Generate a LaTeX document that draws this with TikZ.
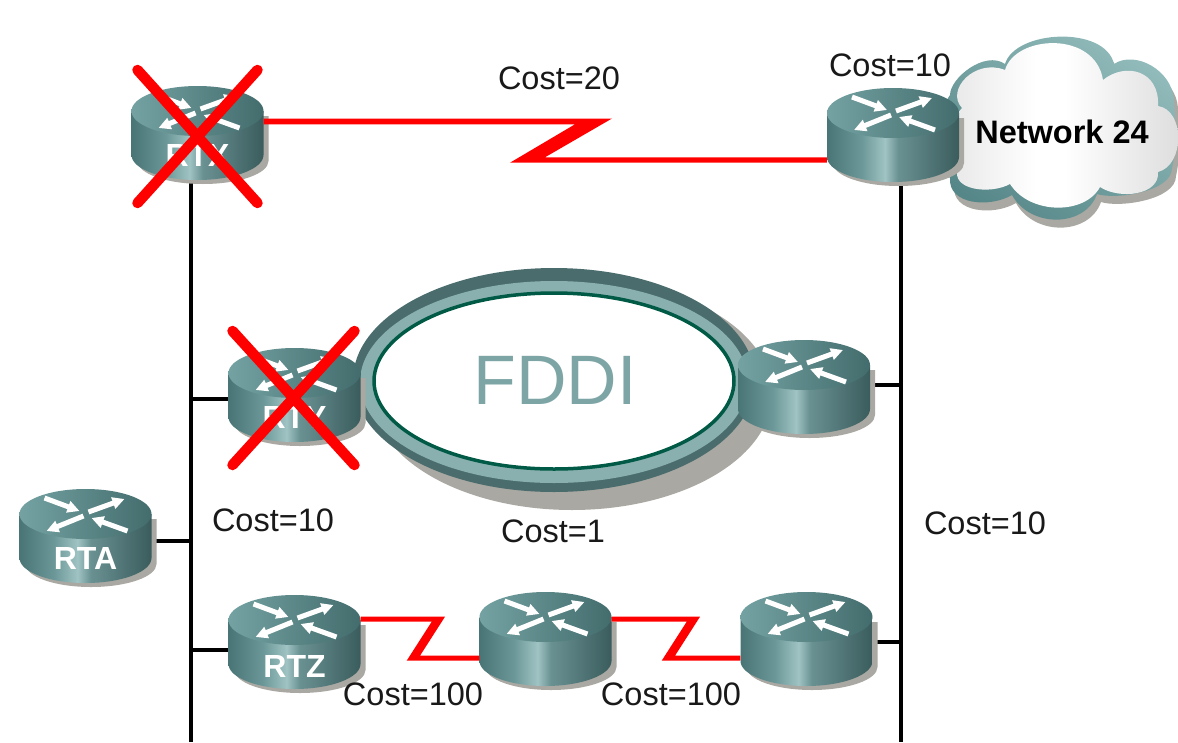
\documentclass[tikz,border=0pt]{standalone}
\usepackage{fontspec}
\setmainfont{Liberation Sans}
\usetikzlibrary{arrows.meta,calc,shapes.geometric}
\definecolor{rshadow}{HTML}{A9A8A2}
\definecolor{rdark}{HTML}{3A5C5D}
\definecolor{rmid}{HTML}{4A7576}
\definecolor{rmid2}{HTML}{6B9798}
\definecolor{rmid3}{HTML}{6A9192}
\definecolor{rlight}{HTML}{A0C3C3}
\definecolor{rtopl}{HTML}{74A2A2}
\definecolor{rtopr}{HTML}{436C6D}
\definecolor{ringdark}{HTML}{4A6C6D}
\definecolor{ringlight}{HTML}{89B0AF}
\definecolor{ringgreen}{HTML}{005A45}
\definecolor{fdditxt}{HTML}{7EA5A5}
\definecolor{cloudtop}{HTML}{93BCBC}
\definecolor{cloudbot}{HTML}{568788}
\definecolor{cloudgrey}{HTML}{DCDCDC}
\definecolor{redline}{HTML}{FF0000}
\pgfdeclarehorizontalshading{rbody}{100bp}{color(0bp)=(rmid); color(25bp)=(rmid); color(38bp)=(rmid2); color(47bp)=(rlight); color(52bp)=(rmid3); color(75bp)=(rdark); color(100bp)=(rdark)}
\pgfdeclarehorizontalshading{cloudfill}{100bp}{color(0bp)=(cloudgrey); color(25bp)=(cloudgrey!70!white); color(44bp)=(white); color(50bp)=(white); color(75bp)=(cloudgrey); color(100bp)=(cloudgrey)}
\pgfdeclarelayer{bg}
\pgfsetlayers{bg,main}
\tikzset{
  bus/.style={line width=4pt,black},
  redlink/.style={fill=redline},
  crossout/.style={line width=10.5pt,redline,line cap=round},
  costlabel/.style={font=\fontsize{32.5}{34}\selectfont,text=black!90,inner sep=0pt},
  routerbox/.style={rectangle,minimum width=132pt,minimum height=94pt,inner sep=0pt},
  routertext/.style={font=\fontsize{32}{34}\selectfont\bfseries,text=white,inner sep=0pt},
  rarrow/.style={white,line width=5pt,-{Triangle[length=12pt,width=11.5pt]}},
}
\newcommand{\routerart}[3]{%
  \begin{scope}[shift={(#2,#3)}]
    \fill[rshadow] (-60,-17) -- (71,-17) -- (71,28) arc[start angle=0,end angle=-180,x radius=65.5pt,y radius=23pt] -- cycle;
    \shade[shading=rbody] (-66,-22) -- (-66,22) arc[start angle=180,end angle=360,x radius=66pt,y radius=25pt] -- (66,-22) -- cycle;
    \shade[left color=rtopl,right color=rtopr] (0,-22) ellipse[x radius=66pt,y radius=25pt];
    \draw[rarrow] (-41,-38) -- (-6,-25);
    \draw[rarrow] (3,-24) -- (39,-37);
    \draw[rarrow] (-2,-20) -- (-39,-5);
    \draw[rarrow] (42,-5) -- (6,-18);
    \node[routerbox] (#1) at (0,0) {};
  \end{scope}}
\newcommand{\cloudshape}{(950,95)
  .. controls (950,78) and (985,50) .. (1005,64)
  .. controls (1015,30) and (1105,25) .. (1114,64)
  .. controls (1135,50) and (1172,70) .. (1174,100)
  .. controls (1176,130) and (1176,150) .. (1172,168)
  .. controls (1172,192) and (1115,200) .. (1097,194)
  .. controls (1085,228) and (1030,228) .. (1012,195)
  .. controls (990,208) and (948,205) .. (950,178)
  .. controls (938,160) and (938,110) .. (950,95) -- cycle}
\newcommand{\cloudinner}{(962,108)
  .. controls (945,90) and (975,58) .. (1005,70)
  .. controls (1015,35) and (1095,30) .. (1103,80)
  .. controls (1125,62) and (1160,70) .. (1158,106)
  .. controls (1185,110) and (1185,165) .. (1158,172)
  .. controls (1160,195) and (1120,200) .. (1100,187)
  .. controls (1085,215) and (1030,215) .. (1010,184)
  .. controls (990,195) and (950,190) .. (958,168)
  .. controls (950,150) and (950,120) .. (962,108) -- cycle}
\begin{document}
\begin{tikzpicture}[x=1pt,y=-1pt]
\useasboundingbox (0,0) rectangle (1178,742);
% cloud
\fill[rshadow] [shift={(4,8)}] \cloudshape;
\shade[top color=cloudtop,bottom color=cloudbot,shading angle=-35] \cloudshape;
\shade[shading=cloudfill] \cloudinner;
\node[font=\fontsize{32.5}{34}\selectfont\bfseries,inner sep=0pt,text=black] (net) at (1062,132) {Network 24};
% FDDI ring
\fill[rshadow] (572,394) ellipse[x radius=200pt,y radius=116pt];
\fill[ringdark] (554,380) ellipse[x radius=201pt,y radius=112pt];
\fill[ringlight] (554,382) ellipse[x radius=194pt,y radius=101pt];
\draw[ringgreen,line width=3.5pt,fill=white] (554,381) ellipse[x radius=180pt,y radius=88pt];
\node[font=\fontsize{70}{72}\selectfont,text=fdditxt,inner sep=0pt] (fddi) at (555,380) {FDDI};
% routers
\routerart{rtx}{197.5}{133}{}
\routerart{rty}{294.5}{395}{}
\routerart{rta}{85.5}{536}{}
\routerart{rtz}{294.5}{642}{}
\routerart{rmid}{545.5}{639}{}
\routerart{rbr}{806.5}{639}{}
\routerart{rfd}{804}{387}{}
\routerart{rtr}{893}{135}{}
\node[routertext] (lx) at ($(rtx)+(0,22)$) {RTX};
\node[routertext] (ly) at ($(rty)+(0,22)$) {RTY};
\node[routertext] (la) at ($(rta)+(0,22)$) {RTA};
\node[routertext] (lz) at ($(rtz)+(0,24)$) {RTZ};
% connectors
\coordinate (ltop) at (191,175);
\coordinate (lbot) at (191,742);
\coordinate (rtop) at (901,175);
\coordinate (rbot) at (901,742);
\coordinate (ja) at (191,541);
\coordinate (jy) at (191,399);
\coordinate (jz) at (191,650);
\coordinate (jf) at (901,385);
\coordinate (jb) at (901,642);
\begin{pgfonlayer}{bg}
\draw[bus] (ltop) -- (lbot);
\draw[bus] (rtop) -- (rbot);
\draw[bus] (rta.east |- ja) -- (ja);
\draw[bus] (rty.west |- jy) -- (jy);
\draw[bus] (rtz.west |- jz) -- (jz);
\draw[bus] (rfd.east |- jf) -- (jf);
\draw[bus] (rbr.east |- jb) -- (jb);
\end{pgfonlayer}
% red serial links (wedge-shaped zigzags)
\coordinate (a1) at (0,118.5); \coordinate (a2) at (0,124.3);
\coordinate (a3) at (0,157.3); \coordinate (a4) at (0,162.7);
\fill[redlink] (rtx.east |- a1) -- (612,118.5) -- (545,157.3) -- (rtr.west |- a3)
  -- (rtr.west |- a4) -- (510,162.7) -- (575,124.3) -- (rtx.east |- a2) -- cycle;
\coordinate (b1) at (0,616.7); \coordinate (b2) at (0,621.7);
\coordinate (b3) at (0,655.7); \coordinate (b4) at (0,660.7);
\fill[redlink] (rtz.east |- b1) -- (445,616.7) -- (420,655.7) -- (rmid.west |- b3)
  -- (rmid.west |- b4) -- (406.7,660.7) -- (431.7,621.7) -- (rtz.east |- b2) -- cycle;
\fill[redlink] (rmid.east |- b1) -- (700,616.7) -- (675,655.7) -- (rbr.west |- b3)
  -- (rbr.west |- b4) -- (661.7,660.7) -- (686.7,621.7) -- (rmid.east |- b2) -- cycle;
% crosses
\draw[crossout] ($(rtx)+(-60,-63)$) -- ($(rtx)+(60,70)$);
\draw[crossout] ($(rtx)+(60,-63)$) -- ($(rtx)+(-60,70)$);
\draw[crossout] ($(rty)+(-62,-64)$) -- ($(rty)+(60,70)$);
\draw[crossout] ($(rty)+(60,-64)$) -- ($(rty)+(-62,70)$);
% labels
\node[costlabel] (c20) at (559,78) {Cost=20};
\node[costlabel] (c10a) at (890,65) {Cost=10};
\node[costlabel] (c10b) at (273,520) {Cost=10};
\node[costlabel] (c1) at (553,531) {Cost=1};
\node[costlabel] (c10c) at (985,523) {Cost=10};
\node[costlabel] (c100a) at (413,694) {Cost=100};
\node[costlabel] (c100b) at (671,694) {Cost=100};
\end{tikzpicture}
\end{document}
